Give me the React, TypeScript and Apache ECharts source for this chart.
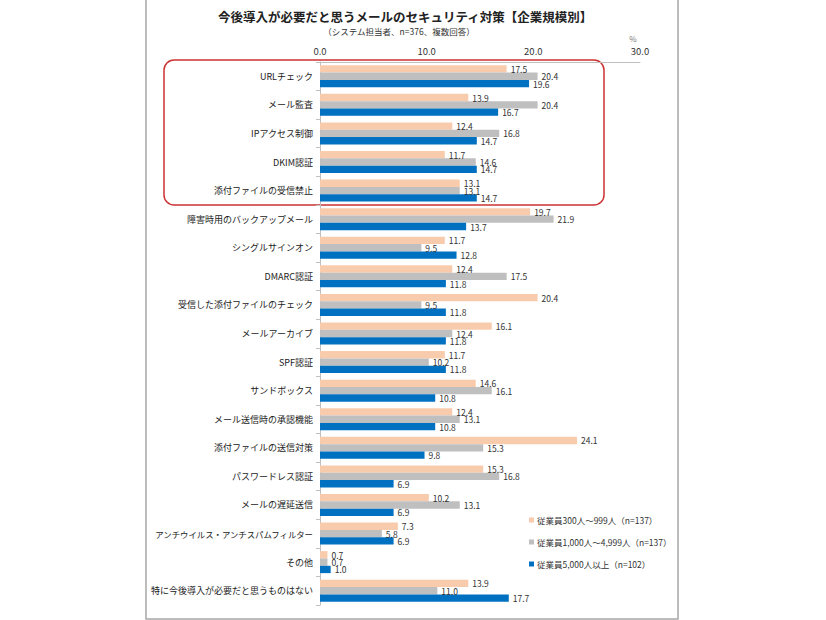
import React, { useEffect, useRef } from "react";
import * as echarts from "echarts";

const categories = [
  "URLチェック",
  "メール監査",
  "IPアクセス制御",
  "DKIM認証",
  "添付ファイルの受信禁止",
  "障害時用のバックアップメール",
  "シングルサインオン",
  "DMARC認証",
  "受信した添付ファイルのチェック",
  "メールアーカイブ",
  "SPF認証",
  "サンドボックス",
  "メール送信時の承認機能",
  "添付ファイルの送信対策",
  "パスワードレス認証",
  "メールの遅延送信",
  "アンチウイルス・アンチスパムフィルター",
  "その他",
  "特に今後導入が必要だと思うものはない",
];

const seriesNames = [
  "従業員300人～999人（n=137）",
  "従業員1,000人～4,999人（n=137）",
  "従業員5,000人以上（n=102）",
];

const small = [17.5, 13.9, 12.4, 11.7, 13.1, 19.7, 11.7, 12.4, 20.4, 16.1, 11.7, 14.6, 12.4, 24.1, 15.3, 10.2, 7.3, 0.7, 13.9];
const medium = [20.4, 20.4, 16.8, 14.6, 13.1, 21.9, 9.5, 17.5, 9.5, 12.4, 10.2, 16.1, 13.1, 15.3, 16.8, 13.1, 5.8, 0.7, 11.0];
const large = [19.6, 16.7, 14.7, 14.7, 14.7, 13.7, 12.8, 11.8, 11.8, 11.8, 11.8, 10.8, 10.8, 9.8, 6.9, 6.9, 6.9, 1.0, 17.7];

const xTicks = [0, 10, 20, 30];

const colors = ["#F8CBAD", "#BFBFBF", "#0070C0"];

const FONT = "'Noto Sans CJK JP', 'Noto Sans', sans-serif";

export default function App() {
  const ref = useRef<HTMLDivElement>(null);

  useEffect(() => {
    document.body.style.margin = "0";
    if (!ref.current) return;
    const chart = echarts.init(ref.current, null, { renderer: "svg" });
    const data = [small, medium, large];
    chart.setOption({
      animation: false,
      backgroundColor: "#ffffff",
      textStyle: { fontFamily: FONT },
      grid: { left: 320, right: 186, top: 62, bottom: 15, containLabel: false },
      legend: {
        orient: "vertical",
        left: 524,
        top: 509,
        itemWidth: 5,
        itemHeight: 5,
        itemGap: 10,
        icon: "rect",
        textStyle: { fontSize: 8.5, color: "#333", fontFamily: FONT, lineHeight: 12, padding: [0, 0, 0, -2] },
        data: seriesNames,
      },
      xAxis: {
        type: "value",
        position: "top",
        min: xTicks[0],
        max: xTicks[xTicks.length - 1],
        interval: 10,
        axisLine: { show: true, lineStyle: { color: "#BFBFBF", width: 1 } },
        axisTick: { show: false },
        splitLine: { show: false },
        axisLabel: {
          fontSize: 9.5,
          color: "#333",
          margin: 6,
          fontFamily: FONT,
          formatter: (v: number) => v.toFixed(1),
        },
      },
      yAxis: {
        type: "category",
        data: categories,
        inverse: true,
        axisLine: { show: true, lineStyle: { color: "#BFBFBF", width: 1 } },
        axisTick: { show: true, interval: 0, length: 4, lineStyle: { color: "#BFBFBF" } },
        axisLabel: {
          fontSize: 9,
          color: "#222",
          margin: 7,
          interval: 0,
          fontFamily: FONT,
          formatter: (v: string) => (v.length > 18 ? `{n|${v}}` : v),
          rich: { n: { fontSize: 8.4, color: "#222", fontFamily: FONT } },
        },
      },
      series: data.map((d, i) => ({
        name: seriesNames[i],
        type: "bar",
        data: d,
        barGap: "0%",
        barCategoryGap: "23%",
        itemStyle: { color: colors[i] },
        label: {
          show: true,
          position: "right",
          distance: 4,
          fontSize: 8.5,
          color: "#333",
          fontFamily: FONT,
          formatter: (p: any) => Number(p.value).toFixed(1),
        },
      })),
      graphic: [
        {
          type: "rect",
          shape: { x: 146, y: -2, width: 532, height: 621 },
          style: { fill: "none", stroke: "#A6A6A6", lineWidth: 1.5 },
          silent: true,
        },
        {
          type: "rect",
          shape: { x: 164, y: 60, width: 440, height: 145, r: 10 },
          style: { fill: "none", stroke: "#CC3333", lineWidth: 1.5 },
          silent: true,
        },
        {
          type: "text",
          x: 405,
          y: 16,
          style: {
            text: "今後導入が必要だと思うメールのセキュリティ対策【企業規模別】",
            fontSize: 12.5,
            fontWeight: "bold",
            fill: "#222",
            fontFamily: FONT,
            align: "center",
            verticalAlign: "middle",
          },
        },
        {
          type: "text",
          x: 399,
          y: 31,
          style: {
            text: "（システム担当者、n=376、複数回答）",
            fontSize: 8.5,
            fill: "#333",
            fontFamily: FONT,
            align: "center",
            verticalAlign: "middle",
          },
        },
        {
          type: "text",
          x: 633,
          y: 38,
          style: {
            text: "%",
            fontSize: 8,
            fill: "#777",
            fontFamily: FONT,
            align: "center",
            verticalAlign: "middle",
          },
        },
      ],
    });
    return () => chart.dispose();
  }, []);

  return <div ref={ref} style={{ width: 826, height: 620 }} />;
}
